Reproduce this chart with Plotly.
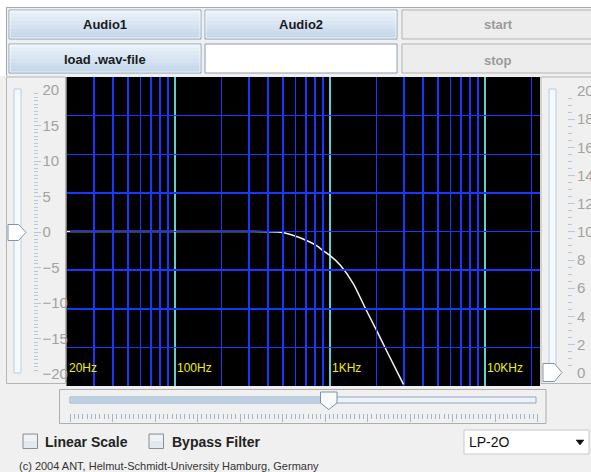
import math
import plotly.graph_objects as go

W, H = 591, 472

# ---------------- data ----------------
freq_hz = [20, 265, 481, 557, 714, 830, 893, 1000, 1172, 1422, 1700, 2024, 2345, 2985]
gain_db = [0.0, 0.0, -0.1, -0.4, -1.2, -1.9, -2.4, -3.1, -4.4, -6.8, -10.0, -13.0, -15.6, -19.8]

decade_hz = [20, 100, 1000, 10000]
decade_labels = ["20Hz", "100Hz", "1KHz", "10KHz"]
grid_hz = [30, 40, 50, 60, 70, 80, 90,
           200, 300, 400, 500, 600, 700, 800, 900,
           2000, 3000, 4000, 5000, 6000, 7000, 8000, 9000,
           20000]
db_grid = [-15, -10, -5, 0, 5, 10, 15]
left_slider_ticks = [-20, -15, -10, -5, 0, 5, 10, 15, 20]
right_slider_ticks = [0, 2, 4, 6, 8, 10, 12, 14, 16, 18, 20]
cutoff_slider_ticks = [0, 10, 20, 30, 40, 50, 60, 70, 80, 90, 100, 110]

button_labels = ["Audio1", "Audio2", "start", "load .wav-file", "stop"]
checkbox_labels = ["Linear Scale", "Bypass Filter"]
filter_choice = "LP-2O"
copyright_text = "(c) 2004 ANT, Helmut-Schmidt-University Hamburg, Germany"

FONT = "Liberation Sans, Arial, sans-serif"


def px(x):
    return x / W


def py(y):
    return 1 - y / H


shapes = []


def rect(x0, y0, x1, y1, fill, line=None, lw=1):
    shapes.append(dict(type="rect", xref="paper", yref="paper",
                       x0=px(x0), x1=px(x1), y0=py(y1), y1=py(y0),
                       fillcolor=fill,
                       line=dict(color=line if line else "rgba(0,0,0,0)", width=lw if line else 0),
                       layer="below"))


def path(points, fill, line, lw=1):
    d = "M " + " L ".join(f"{px(a):.5f},{py(b):.5f}" for a, b in points) + " Z"
    shapes.append(dict(type="path", xref="paper", yref="paper", path=d,
                       fillcolor=fill, line=dict(color=line, width=lw), layer="below"))


def hline(x0, x1, y, color):
    shapes.append(dict(type="line", xref="paper", yref="paper",
                       x0=px(x0), x1=px(x1), y0=py(y), y1=py(y),
                       line=dict(color=color, width=1), layer="below"))


def vline(x, y0, y1, color):
    shapes.append(dict(type="line", xref="paper", yref="paper",
                       x0=px(x), x1=px(x), y0=py(y0), y1=py(y1),
                       line=dict(color=color, width=1), layer="below"))


def mix(c0, c1, t):
    a = [int(c0[i:i + 2], 16) for i in (1, 3, 5)]
    b = [int(c1[i:i + 2], 16) for i in (1, 3, 5)]
    return "#" + "".join(f"{round(a[k] + (b[k] - a[k]) * t):02x}" for k in range(3))


def gradient_button(x0, y0, x1, y1, c_top, c_bot, border):
    n = 8
    h = (y1 - y0) / n
    for i in range(n):
        rect(x0, y0 + i * h, x1, y0 + (i + 1) * h + 0.3, mix(c_top, c_bot, i / (n - 1)))
    rect(x0, y0, x1, y1, "rgba(0,0,0,0)", border)
    rect(x0 + 1, y0 + 1, x1 - 1, y1 - 1, "rgba(0,0,0,0)", "rgba(255,255,255,0.7)")


# white strip above / left of the top panel, panel frame
rect(0, 0, W, 7, "#ffffff")
rect(0, 0, 6, 76, "#ffffff")
hline(6, W, 7.5, "#a9a9a9")
vline(6.5, 7, 76, "#a9a9a9")

# top buttons
gradient_button(9, 10, 201, 39, "#eaf2fa", "#c3d6ea", "#8ca3bb")
gradient_button(205, 10, 397, 39, "#eaf2fa", "#c3d6ea", "#8ca3bb")
gradient_button(9, 44, 201, 73, "#eaf2fa", "#c3d6ea", "#8ca3bb")
rect(402, 10, 595, 39, "#ededed", "#b3b3b3")
rect(402, 44, 595, 73, "#ededed", "#b3b3b3")
rect(205, 44, 397, 73, "#ffffff", "#8e9cb0")

# left slider panel
rect(6.5, 77, 65.5, 383.5, "#f0f0f0", "#b5b5b5")
rect(14, 89, 21, 373, "#f6f9fc", "#b8cce1")
path([(8, 224.5), (18.5, 224.5), (26, 232.3), (18.5, 240.5), (8, 240.5)], "#ffffff", "#7f94ab")

# right slider panel
rect(541, 77, 598, 383.5, "#f0f0f0", "#b5b5b5")
rect(549, 89, 556, 372, "#f6f9fc", "#b8cce1")
path([(543, 363.5), (554.5, 363.5), (562, 372.5), (554.5, 381.5), (543, 381.5)], "#ffffff", "#7f94ab")

# black plotting surface
rect(66.5, 77, 540, 386, "#000000")

# bottom (cutoff) slider
rect(59.5, 389.5, 546, 423.5, "#f0f0f0", "#aeaeae")
rect(70, 397, 536, 403, "#edf2f8", "#91a7bf")
rect(70.5, 397.6, 328.5, 402.4, "#bcd0e6")
path([(320.5, 392), (337, 392), (337, 403), (328.7, 409.5), (320.5, 403)], "#f8fafc", "#7890aa")

# check boxes
for cx in (23, 149):
    rect(cx, 434, cx + 14.5, 448.5, "#e3e9f0", "#8e8e8e")
    rect(cx + 1, 435, cx + 13.5, 441, "#eef2f6")

# combo box
rect(464, 430, 589, 454, "#ffffff", "#c9c9c9")
path([(576, 440), (584, 440), (580, 445)], "#111111", "#111111", 0.5)

annotations = []


def text(x, y, s, size, color, bold=False, anchor="center"):
    annotations.append(dict(xref="paper", yref="paper", x=px(x), y=py(y), text=s,
                            showarrow=False, xanchor=anchor, yanchor="middle",
                            font=dict(family=FONT, size=size, color=color,
                                      weight="bold" if bold else "normal")))


btn_pos = [(105, 25, "#1a1a1a"), (301, 25, "#1a1a1a"), (498, 25, "#9a9a9a"),
           (105, 59, "#1a1a1a"), (498, 60, "#9a9a9a")]
for (bx, by, bc), lab in zip(btn_pos, button_labels):
    text(bx, by, lab, 13, bc, bold=True)

text(42.5, 441.5, checkbox_labels[0], 14, "#222222", bold=True, anchor="left")
text(169.5, 441.5, checkbox_labels[1], 14, "#222222", bold=True, anchor="left")
text(467.5, 442, filter_choice, 14, "#111111", anchor="left")
text(16.5, 465.5, copyright_text, 11, "#333333", anchor="left")

# frequency labels placed through the log x scale
for f, lab in zip(decade_hz, decade_labels):
    annotations.append(dict(xref="x", yref="paper", x=math.log10(f), y=py(368), text=lab,
                            showarrow=False, xanchor="left", yanchor="middle", xshift=0,
                            font=dict(family=FONT, size=12, color="#f0f000")))

fig = go.Figure()

# frequency response curve
fig.add_trace(go.Scatter(x=freq_hz, y=gain_db, mode="lines",
                         line=dict(color="#f2f2f2", width=1.5, shape="spline", smoothing=0.6),
                         hoverinfo="skip", showlegend=False))
# carriers for the extra scales
fig.add_trace(go.Scatter(x=[None], y=[None], xaxis="x3", yaxis="y", showlegend=False, hoverinfo="skip"))
fig.add_trace(go.Scatter(x=[None], y=[None], xaxis="x", yaxis="y2", showlegend=False, hoverinfo="skip"))
fig.add_trace(go.Scatter(x=[None], y=[None], xaxis="x", yaxis="y3", showlegend=False, hoverinfo="skip"))
fig.add_trace(go.Scatter(x=[None], y=[None], xaxis="x2", yaxis="y", showlegend=False, hoverinfo="skip"))

BLUE = "#1838ff"
CYAN = "#66cccc"
SLIDER_TICK = "#b3c7dd"
SLIDER_LABEL = "#a2a2a2"

x_lo = math.log10(20) - 0.0004
x_hi = math.log10(20) + (540 - 66.5) / 155.0

common = dict(showline=False, zeroline=False, automargin=False, fixedrange=True)

fig.update_layout(
    template="none",
    width=W, height=H,
    margin=dict(l=0, r=0, t=0, b=0, pad=0, autoexpand=False),
    paper_bgcolor="#f0f0f0",
    plot_bgcolor="rgba(0,0,0,0)",
    showlegend=False,
    shapes=shapes,
    annotations=annotations,
    xaxis=dict(type="log", domain=[px(66.5), px(540)], range=[x_lo, x_hi], anchor="y",
               tickmode="array", tickvals=grid_hz, showticklabels=False, ticks="",
               showgrid=True, gridcolor=BLUE, gridwidth=1.5, **common),
    xaxis3=dict(type="log", overlaying="x", range=[x_lo, x_hi], anchor="y",
                tickmode="array", tickvals=decade_hz, showticklabels=False, ticks="",
                showgrid=True, gridcolor=CYAN, gridwidth=1.5, **common),
    yaxis=dict(domain=[py(386), py(77)], range=[-20, 20], anchor="x",
               tickmode="array", tickvals=db_grid, showticklabels=False, ticks="",
               showgrid=True, gridcolor=BLUE, gridwidth=1.5, **common),
    yaxis2=dict(anchor="free", position=px(32.5), side="left",
                domain=[py(374), py(90)], range=[-20, 20],
                tickmode="array", tickvals=left_slider_ticks,
                ticks="inside", ticklen=7, tickwidth=1, tickcolor=SLIDER_TICK,
                minor=dict(tickmode="linear", tick0=0, dtick=0.5, ticks="inside",
                           ticklen=4, tickwidth=1, tickcolor=SLIDER_TICK, showgrid=False),
                ticklabelposition="inside", ticklabeloverflow="allow", ticklabelstandoff=2,
                tickfont=dict(family=FONT, size=15, color=SLIDER_LABEL),
                showgrid=False, **common),
    yaxis3=dict(anchor="free", position=px(567), side="left",
                domain=[py(372.7), py(91)], range=[0, 20],
                tickmode="array", tickvals=right_slider_ticks,
                ticks="inside", ticklen=7, tickwidth=1, tickcolor=SLIDER_TICK,
                minor=dict(tickmode="linear", tick0=0, dtick=0.5, ticks="inside",
                           ticklen=4, tickwidth=1, tickcolor=SLIDER_TICK, showgrid=False),
                ticklabelposition="inside", ticklabeloverflow="allow", ticklabelstandoff=2,
                tickfont=dict(family=FONT, size=15, color=SLIDER_LABEL),
                showgrid=False, **common),
    xaxis2=dict(anchor="free", position=py(413), side="bottom",
                domain=[px(70), px(537.7)], range=[0, 110],
                tickmode="array", tickvals=cutoff_slider_ticks,
                ticks="outside", ticklen=8, tickwidth=1, tickcolor="#9fb5cd",
                minor=dict(tickmode="linear", tick0=0, dtick=1, ticks="outside",
                           ticklen=5, tickwidth=1, tickcolor="#9fb5cd", showgrid=False),
                showticklabels=False, showgrid=False, **common),
)

fig.write_html("out.html", config={"displayModeBar": False, "staticPlot": True},
               post_script="document.body.style.margin='0';document.body.style.overflow='hidden';")
